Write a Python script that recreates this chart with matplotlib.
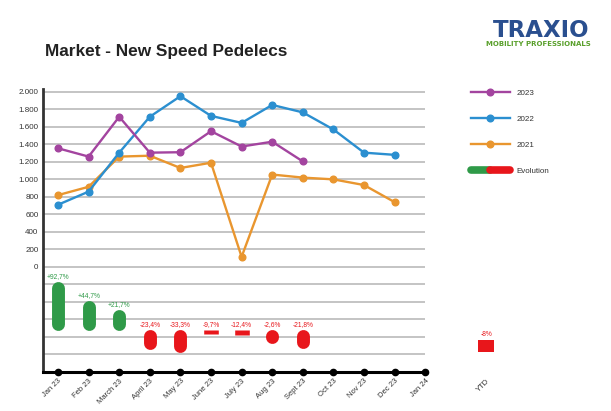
import matplotlib
matplotlib.use("Agg")
import matplotlib.pyplot as plt
from matplotlib.lines import Line2D
from matplotlib.legend_handler import HandlerTuple

plt.rcParams['font.family'] = ['Liberation Sans', 'DejaVu Sans']

months = ["Jan 23", "Feb 23", "March 23", "April 23", "May 23", "June 23", "July 23",
          "Aug 23", "Sept 23", "Oct 23", "Nov 23", "Dec 23", "Jan 24"]
y2023 = [1355, 1260, 1715, 1305, 1310, 1550, 1375, 1430, 1205]
y2022 = [710, 860, 1305, 1715, 1950, 1725, 1645, 1850, 1765, 1570, 1305, 1280]
y2021 = [820, 915, 1260, 1270, 1130, 1190, 115, 1055, 1020, 1000, 935, 740]
evo_pct = [92.7, 44.7, 21.7, -23.4, -33.3, -9.7, -12.4, -2.6, -21.8]
evo_shape = ["round", "round", "round", "round", "round", "butt", "butt", "round", "round"]
ytd_pct = -8

c23, c22, c21 = "#a3449f", "#2b8fd0", "#e9962f"
green, red = "#2f9a48", "#e8161b"

fig = plt.figure(figsize=(6.11, 4.11), dpi=100)
ax = fig.add_axes([0.0699, 0.0950, 0.7512, 0.688])
ax.set_xlim(-0.5, 14.5)
ax.set_ylim(-1200, 2030)

# grid lines (drawn only over the monthly part)
for g in range(-1000, 2001, 200):
    ax.hlines(g, -0.5, 12, color="#c4c4c4", lw=1.4, zorder=0)

ax.plot(range(len(y2021)), y2021, "-o", color=c21, lw=1.7, ms=4.8, label="2021", zorder=3)
ax.plot(range(len(y2022)), y2022, "-o", color=c22, lw=1.7, ms=4.8, label="2022", zorder=4)
ax.plot(range(len(y2023)), y2023, "-o", color=c23, lw=1.7, ms=4.8, label="2023", zorder=5)

# evolution capsules
base = -720
k = 4.4      # data units per %
cap = 68     # half cap height in data units
for i, (p, s) in enumerate(zip(evo_pct, evo_shape)):
    col = green if p > 0 else red
    sg = 1 if p > 0 else -1
    kk = k if p > 0 else 3.3
    if s == "round":
        y0 = base + sg * cap
        y1 = y0 + p * kk
        top = y1 + cap if p > 0 else base
        ax.plot([i, i], [y0, y1], color=col, lw=9.3, solid_capstyle="round", zorder=3)
    else:
        y0 = base
        y1 = base + p * k
        top = base
        ax.plot([i, i], [y0, y1], color=col, lw=10.5, solid_capstyle="butt", zorder=3)
    lab = f"{p:+.1f}%".replace(".", ",")
    ax.annotate(lab, (i, top), xytext=(0, 1.5), textcoords="offset points",
                ha="center", va="bottom", fontsize=4.8, color=col)

# YTD
ax.bar(14, ytd_pct * 17, bottom=-836, width=0.52, color=red, zorder=3)
ax.annotate(f"{ytd_pct}%", (14, -836), xytext=(0, 1.5), textcoords="offset points",
            ha="center", va="bottom", fontsize=4.8, color=red)

# axes
ax.spines[["top", "right"]].set_visible(False)
ax.spines["left"].set_linewidth(2)
ax.spines["left"].set_color("#333333")
ax.spines["bottom"].set_linewidth(2.2)
ax.spines["bottom"].set_bounds(-0.5, 12)
ax.plot(range(len(months)), [-1200] * len(months), "o", color="black", ms=4.5,
        clip_on=False, zorder=6)

yt = list(range(0, 2001, 200))
ax.set_yticks(yt)
ax.set_yticklabels([f"{v:,}".replace(",", ".") for v in yt], fontsize=5.8, color="#333333")
ax.tick_params(axis="y", length=0, pad=3)
ax.set_xticks(list(range(len(months))) + [14])
ax.set_xticklabels(months + ["YTD"], rotation=45, ha="right", rotation_mode="anchor",
                   fontsize=5.5, color="#333333")
ax.tick_params(axis="x", length=0, pad=4)

# title and logo
fig.text(0.0737, 1 - 56 / 411, "Market - New Speed Pedelecs", fontsize=12.4,
         fontweight="bold", color="#222222", va="baseline")
fig.text(0.885, 1 - 37 / 411, "TRAXIO", fontsize=16.5, fontweight="bold",
         color="#2a4f8f", ha="center", va="baseline", family="DejaVu Sans")
fig.text(0.881, 1 - 46 / 411, "MOBILITY PROFESSIONALS", fontsize=5, fontweight="bold",
         color="#5aa02c", ha="center", va="baseline", family="DejaVu Sans")

# legend
h23 = Line2D([], [], color=c23, lw=1.7, marker="o", ms=4.8)
h22 = Line2D([], [], color=c22, lw=1.7, marker="o", ms=4.8)
h21 = Line2D([], [], color=c21, lw=1.7, marker="o", ms=4.8)
hg = Line2D([], [], color=green, lw=5.5, solid_capstyle="round")
hr = Line2D([], [], color=red, lw=5.5, solid_capstyle="round")
fig.legend([h23, h22, h21, (hg, hr)], ["2023", "2022", "2021", "Evolution"],
           handler_map={tuple: HandlerTuple(ndivide=None, pad=0)},
           loc="upper left", bbox_to_anchor=(471 / 611, 1 - 89 / 411),
           frameon=False, fontsize=5.8, handlelength=4.8, handletextpad=0.8,
           labelspacing=2.3, borderpad=0, borderaxespad=0, labelcolor="#333333")

fig.savefig("out.png", dpi=100)
